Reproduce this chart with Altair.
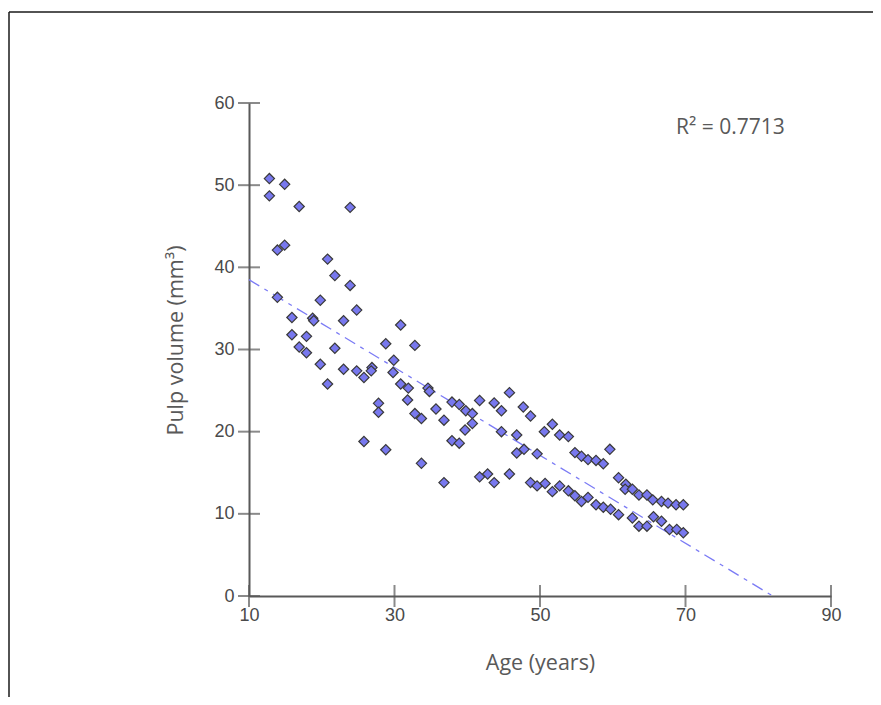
import altair as alt
import pandas as pd

# Age (years) and pulp volume (mm3)
ages = [12.8, 12.8, 14.9, 16.9, 23.9,
        13.9, 14.9, 20.8, 21.8, 23.9,
        13.9, 19.8, 24.8,
        15.9, 18.75, 18.9, 23.0,
        15.9, 17.9, 16.9, 17.9, 21.8,
        19.8, 23.0, 24.8, 25.8, 26.9, 26.8,
        20.8,
        30.85, 28.8, 32.8,
        29.9, 29.8, 30.85, 31.9, 34.6, 34.8,
        31.8, 27.8, 27.8, 32.8, 33.7, 35.7, 36.8,
        37.9, 38.9, 39.8, 39.7, 37.9, 38.9,
        25.8, 28.8, 33.7, 36.8,
        40.7, 40.7, 41.7, 43.7, 44.7, 45.8, 47.7, 48.7,
        44.7, 46.8, 50.6, 51.7,
        46.8, 47.8, 49.6,
        41.7, 42.8, 43.7, 45.8, 48.7, 49.6, 50.7, 51.7, 52.7,
        52.7, 53.9,
        54.8, 55.7, 56.6, 57.7, 58.7, 59.6,
        60.8, 61.8, 61.7, 62.7, 63.6, 64.7, 65.5, 66.7, 67.6, 68.7, 69.7,
        53.9, 54.8, 55.7, 56.6, 57.7, 58.7, 59.7, 60.8, 62.7, 63.6, 64.7, 65.6, 66.7, 67.8, 68.8, 69.7]
volumes = [50.8, 48.7, 50.1, 47.4, 47.3,
           42.1, 42.7, 41.0, 39.0, 37.8,
           36.35, 36.0, 34.8,
           33.9, 33.8, 33.5, 33.5,
           31.8, 31.6, 30.3, 29.6, 30.15,
           28.2, 27.6, 27.4, 26.6, 27.8, 27.4,
           25.8,
           32.98, 30.7, 30.5,
           28.7, 27.2, 25.8, 25.3, 25.3, 24.9,
           23.85, 23.45, 22.36, 22.2, 21.6, 22.76, 21.4,
           23.6, 23.3, 22.55, 20.2, 18.9, 18.6,
           18.8, 17.8, 16.15, 13.8,
           22.2, 21.0, 23.8, 23.5, 22.55, 24.75, 23.0, 21.9,
           20.0, 19.6, 20.0, 20.9,
           17.4, 17.85, 17.3,
           14.5, 14.85, 13.8, 14.85, 13.8, 13.4, 13.7, 12.7, 13.4,
           19.6, 19.4,
           17.45, 17.0, 16.6, 16.5, 16.1, 17.85,
           14.4, 13.6, 13.0, 13.0, 12.3, 12.3, 11.7, 11.5, 11.3, 11.1, 11.1,
           12.8, 12.2, 11.5, 12.0, 11.1, 10.8, 10.55, 9.9, 9.5, 8.5, 8.5, 9.65, 9.1, 8.1, 8.1, 7.7]

# Linear trend line end points
trend_age = [10, 82]
trend_vol = [38.5, 0]

x_ticks = [10, 30, 50, 70, 90]
y_ticks = [0, 10, 20, 30, 40, 50, 60]
r2_label = "R\u00b2 = 0.7713"

W, H = 582, 493
PL, PT, PR, PB = 241, 95, 42, 101

pts = pd.DataFrame({"age": ages, "vol": volumes})
trend = pd.DataFrame({"age": trend_age, "vol": trend_vol})
xt = pd.DataFrame({"age": x_ticks, "vol": [0] * len(x_ticks)})
yt = pd.DataFrame({"age": [10] * len(y_ticks), "vol": y_ticks})

xs = alt.Scale(domain=[10, 90], nice=False, zero=False)
ys = alt.Scale(domain=[0, 60], nice=False)

label_font = "Liberation Sans"
title_font = "Open Sans"

xaxis = alt.Axis(values=x_ticks, title="Age (years)", grid=False, ticks=False, tickSize=0,
                 labelFlush=False, labelFont=label_font, labelFontSize=18, labelColor="#4a4a4a",
                 labelPadding=10, titleY=67, titleBaseline="middle",
                 titleFont=title_font, titleFontSize=21.5, titleColor="#595959", titleFontWeight="normal")
yaxis = alt.Axis(values=y_ticks, title="Pulp volume (mm\u00b3)", grid=False, ticks=False, tickSize=0,
                 labelFlush=False, labelFont=label_font, labelFontSize=18, labelColor="#4a4a4a",
                 labelPadding=15, titleX=-73, titleY=237, titleAngle=-90, titleBaseline="middle",
                 titleAlign="center",
                 titleFont=title_font, titleFontSize=21.5, titleColor="#595959", titleFontWeight="normal")

base_points = alt.Chart(pts).mark_point(
    shape="diamond", size=105, filled=True, fill="#7878ee", stroke="#3a3a3a", strokeWidth=1.2, opacity=1
).encode(
    x=alt.X("age:Q", scale=xs, axis=xaxis),
    y=alt.Y("vol:Q", scale=ys, axis=yaxis),
)

line = alt.Chart(trend).mark_line(
    color="#7b7bf5", strokeWidth=1.3, strokeDash=[12, 6, 4, 6]
).encode(x=alt.X("age:Q", scale=xs), y=alt.Y("vol:Q", scale=ys))

xticks_m = alt.Chart(xt).mark_tick(orient="vertical", size=22, thickness=2, color="#595959").encode(
    x=alt.X("age:Q", scale=xs), y=alt.Y("vol:Q", scale=ys))
yticks_m = alt.Chart(yt).mark_tick(orient="horizontal", size=22, thickness=2, color="#595959").encode(
    x=alt.X("age:Q", scale=xs), y=alt.Y("vol:Q", scale=ys))

r2 = alt.Chart(pd.DataFrame({"t": [r2_label]})).mark_text(
    align="left", baseline="middle", font=title_font, fontSize=21, color="#595959"
).encode(x=alt.value(427), y=alt.value(25), text="t:N")

border_top = alt.Chart(pd.DataFrame({"a": [0]})).mark_rule(color="#1a1a1a", strokeWidth=1.5).encode(
    x=alt.value(-240), x2=alt.value(W + PR), y=alt.value(-91))
border_left = alt.Chart(pd.DataFrame({"a": [0]})).mark_rule(color="#1a1a1a", strokeWidth=1.5).encode(
    x=alt.value(-240), y=alt.value(-91), y2=alt.value(H + PB))

chart = alt.layer(line, base_points, xticks_m, yticks_m, r2, border_top, border_left).properties(
    width=W, height=H,
    autosize=alt.AutoSizeParams(type="none"),
    padding={"left": PL, "top": PT, "right": PR, "bottom": PB},
    background="white",
).configure_view(stroke=None).configure_axis(
    domainColor="#595959", domainWidth=2,
)

chart.save("out.html", embed_options={"renderer": "svg", "actions": False})
